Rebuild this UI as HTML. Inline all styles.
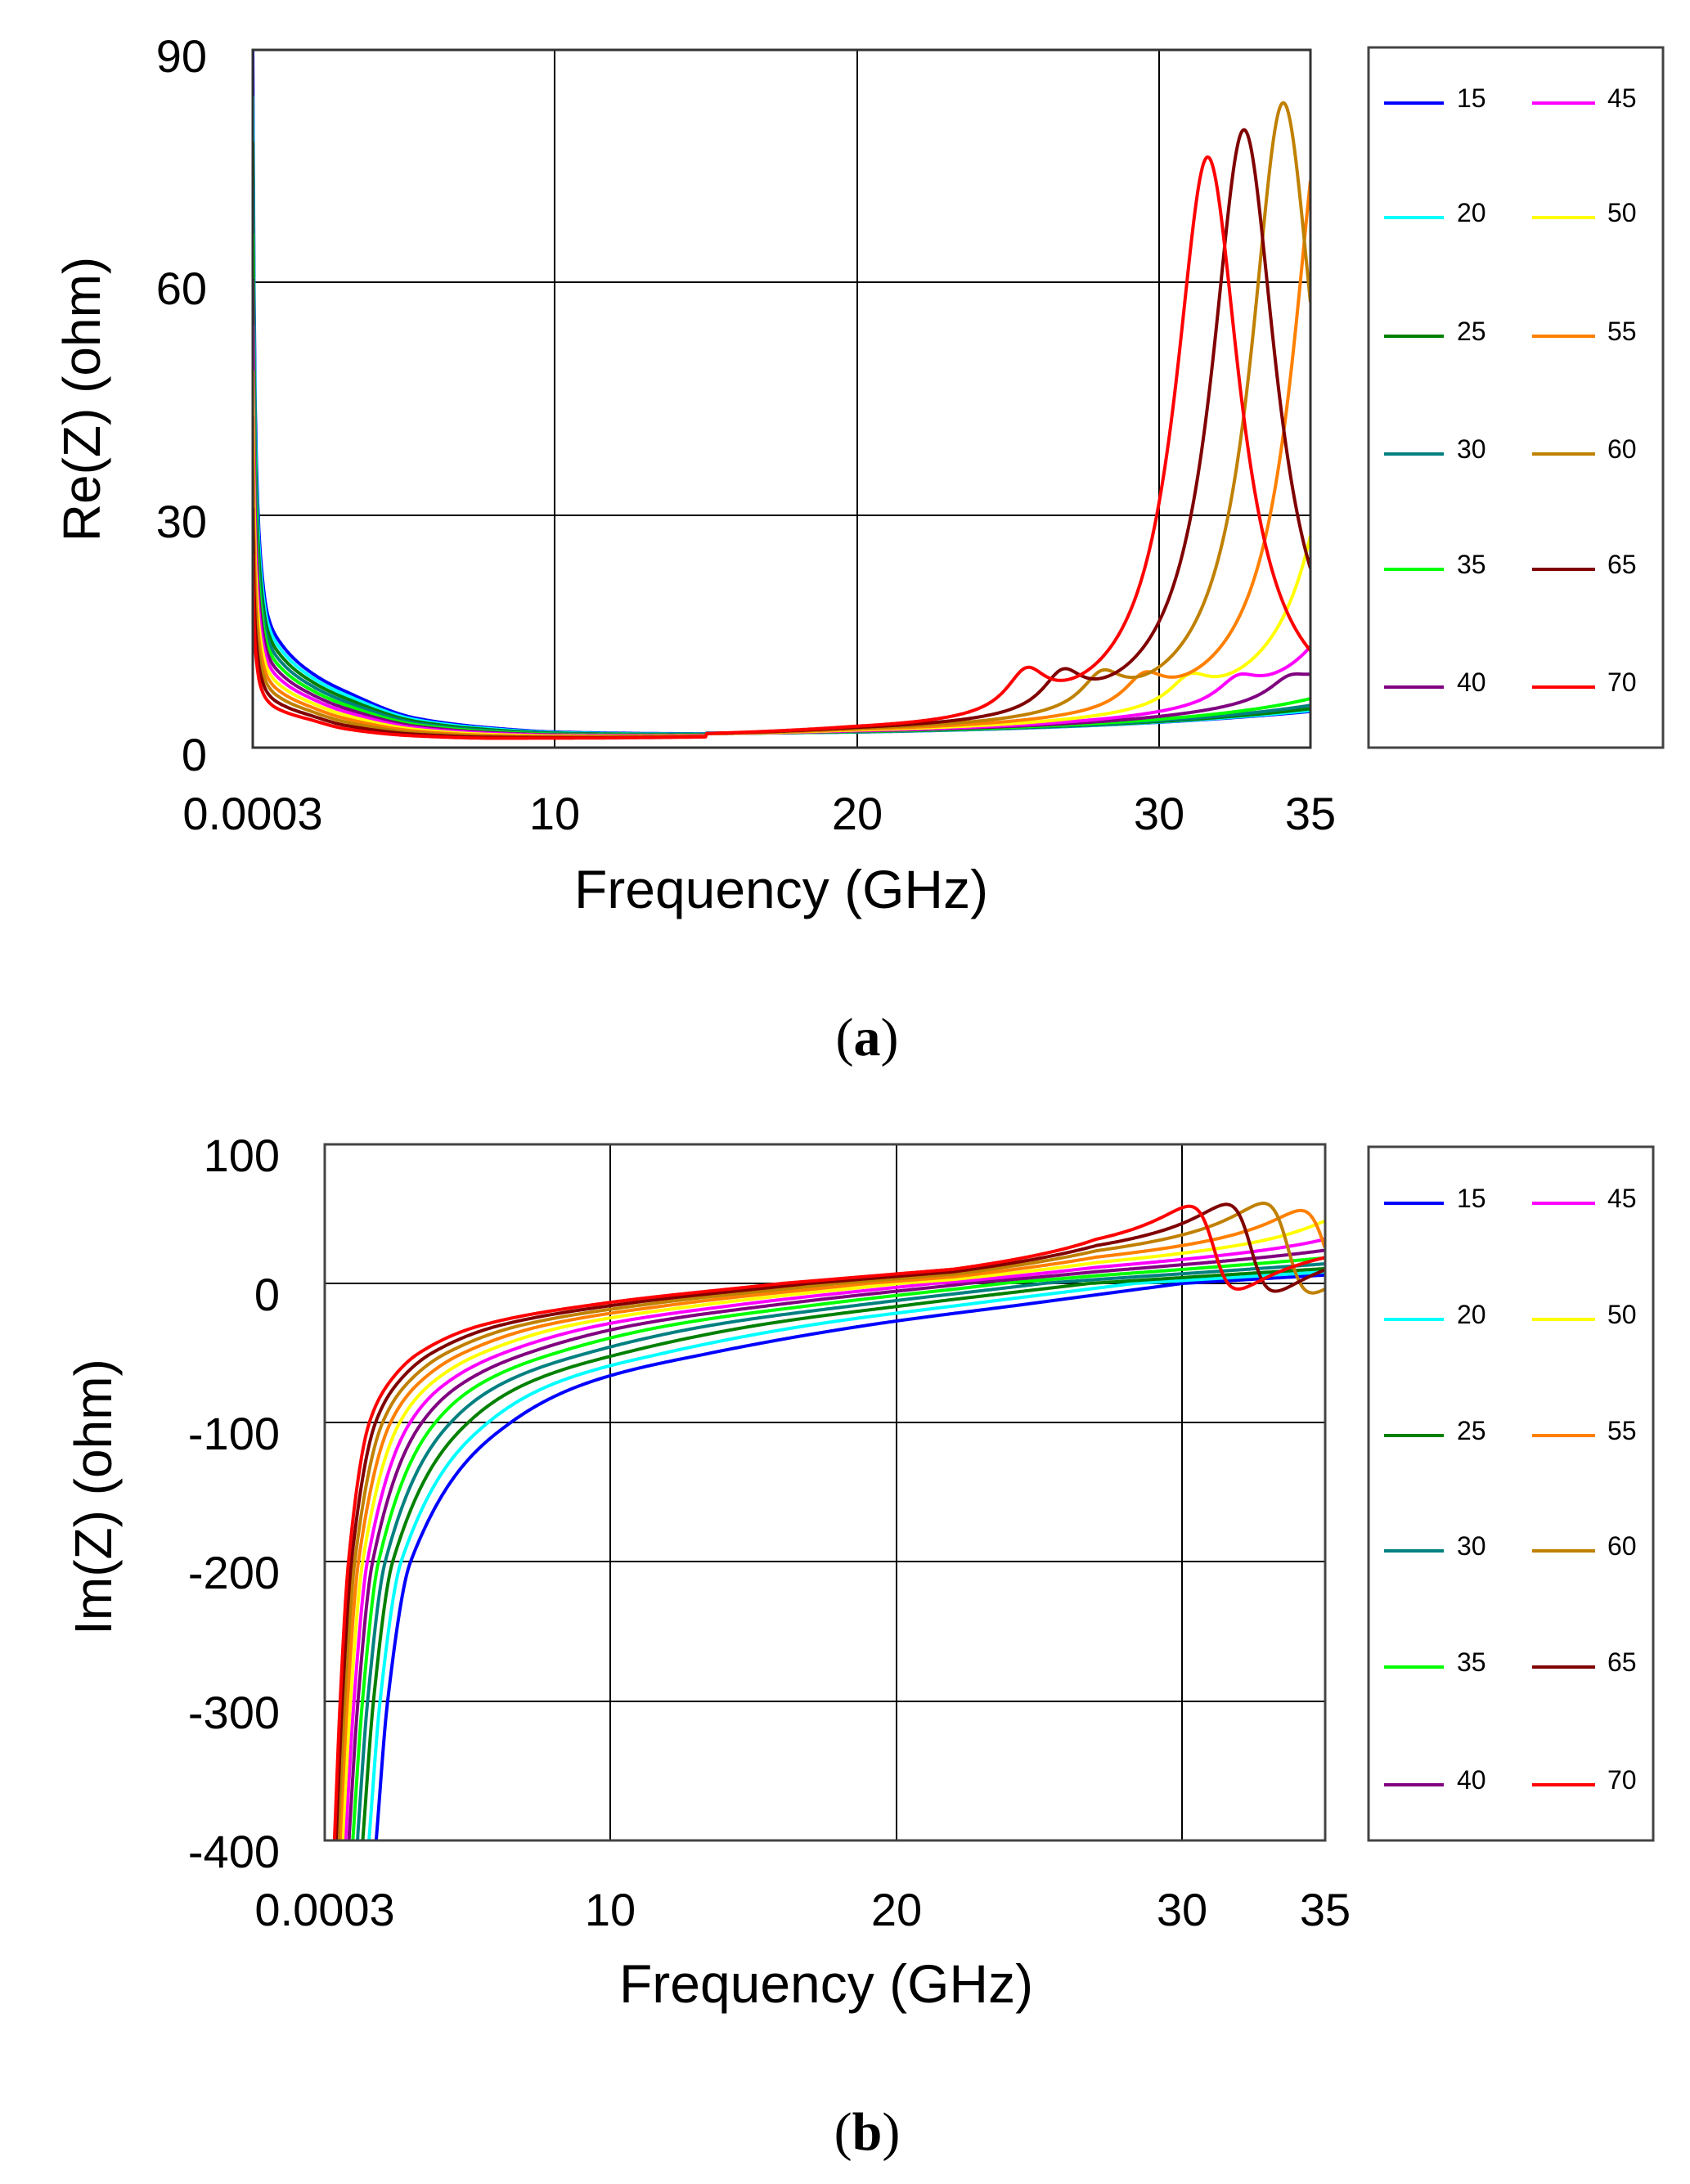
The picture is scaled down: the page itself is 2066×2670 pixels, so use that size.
<!DOCTYPE html>
<html><head><meta charset="utf-8">
<style>
html,body{margin:0;padding:0;background:#fff;overflow:hidden;}
body{width:2066px;height:2670px;position:relative;overflow:hidden;}
svg{position:absolute;left:0;top:0;display:block;}
text{font-family:"Liberation Sans",sans-serif;fill:#000;}
</style></head>
<body>
<svg id="s" width="2066" height="2670" viewBox="0 0 2066 2670" xmlns="http://www.w3.org/2000/svg">
<defs>
<clipPath id="ca"><rect x="309" y="61" width="1293" height="853"/></clipPath>
<clipPath id="cb"><rect x="397" y="1399" width="1223" height="851"/></clipPath>
</defs>
<g stroke="#000" stroke-width="2">
<line x1="678" y1="61" x2="678" y2="914"/><line x1="1048" y1="61" x2="1048" y2="914"/><line x1="1417" y1="61" x2="1417" y2="914"/>
<line x1="309" y1="345" x2="1602" y2="345"/><line x1="309" y1="630" x2="1602" y2="630"/>
<line x1="397" y1="1569" x2="1620" y2="1569"/><line x1="397" y1="1739" x2="1620" y2="1739"/><line x1="397" y1="1909" x2="1620" y2="1909"/><line x1="397" y1="2080" x2="1620" y2="2080"/>
<line x1="746" y1="1399" x2="746" y2="2250"/><line x1="1096" y1="1399" x2="1096" y2="2250"/><line x1="1445" y1="1399" x2="1445" y2="2250"/>
</g>
<g id="ga" clip-path="url(#ca)" fill="none" stroke-width="4" stroke-linejoin="round"></g>
<g id="gb" clip-path="url(#cb)" fill="none" stroke-width="4" stroke-linejoin="round"></g>
<rect x="309" y="61" width="1293" height="853" fill="none" stroke="#333" stroke-width="3"/>
<rect x="397" y="1399" width="1223" height="851" fill="none" stroke="#444" stroke-width="3"/>
<rect x="1673" y="58" width="360" height="856" fill="none" stroke="#444" stroke-width="3"/>
<rect x="1673" y="1402" width="348" height="848" fill="none" stroke="#444" stroke-width="3"/>
<g id="lg" stroke-width="4"></g>
<g font-size="56" text-anchor="end">
<text x="253" y="88">90</text><text x="253" y="372">60</text><text x="253" y="657">30</text><text x="253" y="942">0</text>
</g>
<g font-size="56" text-anchor="middle">
<text x="309" y="1014">0.0003</text><text x="678" y="1014">10</text><text x="1048" y="1014">20</text><text x="1417" y="1014">30</text><text x="1602" y="1014">35</text>
</g>
<text x="955" y="1110" font-size="66" text-anchor="middle">Frequency (GHz)</text>
<text transform="translate(122,488) rotate(-90)" font-size="64" text-anchor="middle">Re(Z) (ohm)</text>
<text x="1060" y="1290" font-size="66" text-anchor="middle" style="font-family:'Liberation Serif',serif">(<tspan font-weight="bold">a</tspan>)</text>
<g font-size="56" text-anchor="end">
<text x="342" y="1432">100</text><text x="342" y="1602">0</text><text x="342" y="1772">-100</text><text x="342" y="1942">-200</text><text x="342" y="2113">-300</text><text x="342" y="2283">-400</text>
</g>
<g font-size="56" text-anchor="middle">
<text x="397" y="2354">0.0003</text><text x="746" y="2354">10</text><text x="1096" y="2354">20</text><text x="1445" y="2354">30</text><text x="1620" y="2354">35</text>
</g>
<text x="1010" y="2448" font-size="66" text-anchor="middle">Frequency (GHz)</text>
<text transform="translate(136,1830) rotate(-90)" font-size="64" text-anchor="middle">Im(Z) (ohm)</text>
<text x="1060" y="2628" font-size="66" text-anchor="middle" style="font-family:'Liberation Serif',serif">(<tspan font-weight="bold">b</tspan>)</text>
<g font-size="32">
<text x="1781" y="131">15</text><text x="1781" y="271">20</text><text x="1781" y="416">25</text><text x="1781" y="560">30</text><text x="1781" y="701">35</text><text x="1781" y="845">40</text>
<text x="1965" y="131">45</text><text x="1965" y="271">50</text><text x="1965" y="416">55</text><text x="1965" y="560">60</text><text x="1965" y="701">65</text><text x="1965" y="845">70</text>
<text x="1781" y="1476">15</text><text x="1781" y="1618">20</text><text x="1781" y="1760">25</text><text x="1781" y="1901">30</text><text x="1781" y="2043">35</text><text x="1781" y="2187">40</text>
<text x="1965" y="1476">45</text><text x="1965" y="1618">50</text><text x="1965" y="1760">55</text><text x="1965" y="1901">60</text><text x="1965" y="2043">65</text><text x="1965" y="2187">70</text>
</g>
</svg>
<script>
(function(){
var NS="http://www.w3.org/2000/svg";
var cols=["#0000ff","#00ffff","#008000","#008080","#00ff00","#800080","#ff00ff","#ffff00","#ff8000","#c08000","#800000","#ff0000"];
function pchip(xs,ys,x){
  var n=xs.length;
  if(x<=xs[0])return ys[0]; if(x>=xs[n-1])return ys[n-1];
  var i=0; while(x>xs[i+1])i++;
  var d=[],h=[],m=[];
  for(var k=0;k<n-1;k++){h[k]=xs[k+1]-xs[k];d[k]=(ys[k+1]-ys[k])/h[k];}
  m[0]=d[0];m[n-1]=d[n-2];
  for(k=1;k<n-1;k++){ if(d[k-1]*d[k]<=0)m[k]=0; else {var w1=2*h[k]+h[k-1],w2=h[k]+2*h[k-1]; m[k]=(w1+w2)/(w1/d[k-1]+w2/d[k]);}}
  var t=(x-xs[i])/h[i],t2=t*t,t3=t2*t;
  return (2*t3-3*t2+1)*ys[i]+(t3-2*t2+t)*h[i]*m[i]+(-2*t3+3*t2)*ys[i+1]+(t3-t2)*h[i]*m[i+1];
}
function path(pts){var s="M";for(var i=0;i<pts.length;i++)s+=(i?" L":"")+pts[i][0].toFixed(1)+" "+pts[i][1].toFixed(1);return s;}
var bf=[0,0.05,0.1,0.25,0.5,0.83,2,3.1,5.4,8,10,15,20],
    bv=[90,55,40,25,17,14,9.5,7.2,3.8,2.5,2,1.7,1.6],
    rv=[25,15,12,8,6,5,3.5,2.4,1.5,1.2,1.2,1.3,1.6];
var ga=document.getElementById("ga"),gb=document.getElementById("gb"),lg=document.getElementById("lg");
var lev=[-400,-300,-200,-100,-70,-50,-30,-15,0];
var bF=[1.8,2.2,3.0,6.5,9.4,13.5,19,24.5,30], rF=[0.34,0.54,0.83,1.56,2.3,3.3,5.5,9.5,16];
for(var k=0;k<12;k++){
  var t=k/11, col=cols[k], kk=15+5*k, st=(70-kk)/5;
  var f0=31.6+st*1.15+st*st*0.05, P=Math.min(80,73.5+st*3.3);
  var fi0=31.1+st*1.3;
  var pts=[];
  for(var px=309;px<=1602;px+=1.5){
    var f=(px-309)/1293*35;
    var low=pchip(bf,bv,f)*(1-t)+pchip(bf,rv,f)*t;
    if(k===0&&f<0.03)low=90;
    var rise=(2.5-1.0*t)*Math.pow(f/35,4);
    var x=(f-f0)/1.3;
    var res=P/(1+x*x);
    var xb=(f-(f0-6))/0.8; var bump=(t>0.4?5*t:0)/(1+xb*xb);
    var v=low+rise+res*(f>15?1:0)+bump;
    pts.push([px,914-v/90*853]);
  }
  if(k===0)pts.unshift([310,61]);
  var p=document.createElementNS(NS,"path");p.setAttribute("d",path(pts));p.setAttribute("stroke",col);ga.appendChild(p);
  var F=[];for(var j=0;j<lev.length;j++)F.push(Math.exp(Math.log(bF[j])*(1-t)+Math.log(rF[j])*t));
  var fz=F[F.length-1], slope=1.2+0.5*t;
  var pts2=[];
  for(var px2=397;px2<=1620;px2+=1.5){
    var f2=(px2-397)/1223*35, v2;
    if(f2<F[0]) v2=-400-(F[0]-f2)*600;
    else if(f2<=fz) v2=pchip(F,lev,f2);
    else v2=slope*(f2-fz);
    var xr=(f2-fi0)/0.9;
    var ri=-0.85*P*xr/(1+xr*xr);
    var sm=f2<22?0:Math.min(1,(f2-22)/5);
    v2+=ri*sm*Math.min(1,Math.max(0,(t-0.2)*1.6));
    pts2.push([px2,1569-v2*1.702]);
  }
  var p2=document.createElementNS(NS,"path");p2.setAttribute("d",path(pts2));p2.setAttribute("stroke",col);gb.appendChild(p2);
  var c=k<6?0:1, r=k%6;
  var ya=[126,266,411,555,696,840][r], yb=[1471,1613,1755,1896,2038,2182][r];
  var x1=c?1873:1692, x2=c?1950:1765;
  [ya,yb].forEach(function(y){var l=document.createElementNS(NS,"line");l.setAttribute("x1",x1);l.setAttribute("x2",x2);l.setAttribute("y1",y);l.setAttribute("y2",y);l.setAttribute("stroke",col);lg.appendChild(l);});
}
})();
</script>
</body></html>
